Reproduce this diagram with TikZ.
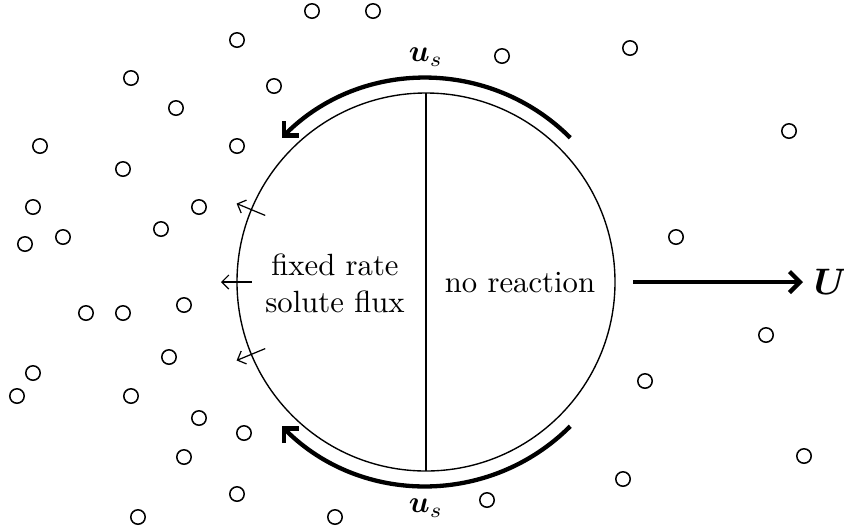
\documentclass[tikz,border=0pt]{standalone}
\usepackage{amsmath}
\usepackage{tikz}
\usetikzlibrary{arrows.meta,positioning}

\begin{document}
\begin{tikzpicture}[
    x=0.3257pt,y=0.3257pt,
    font=\normalsize,
    particle/.style={draw,line width=0.5pt,radius=2.35pt},
    slipflow/.style={-{Straight Barb[length=1.2mm,width=2.4mm]},line width=1.4pt},
    fluxarrow/.style={-{Straight Barb[length=0.8mm,width=1.6mm]},line width=0.4pt},
    drift/.style={-{Straight Barb[length=1.2mm,width=2.4mm]},line width=1.4pt}
  ]
    \useasboundingbox (-426,-246) rectangle (418,282);

    % particle and its two halves
    \coordinate (c) at (0,0);
    \draw[line width=0.45pt] (c) circle[radius=189];
    \draw[line width=0.45pt] (0,189) -- (0,-189);
    \node[align=center] (active) at (-91,-1) {fixed rate\\solute flux};
    \node (inert) at (94,-1) {no reaction};

    % slip velocity over the surface
    \draw[slipflow] (45:204) arc[start angle=45,end angle=135,radius=204];
    \draw[slipflow] (-45:204) arc[start angle=-45,end angle=-135,radius=204];
    \node (ustop) at (0,225) {$\boldsymbol{u}_s$};
    \node (usbot) at (0,-226) {$\boldsymbol{u}_s$};

    % released solute
    \foreach \a in {157.5,180,202.5}
      \draw[fluxarrow] (\a:174) -- (\a:205);

    % swimming direction
    \coordinate (ustart) at (207,0);
    \node[right=0pt of {(377,0)},font=\large] (U) {$\boldsymbol{U}$};
    \draw[drift] (ustart) -- (U.west);

    % solute molecules
    \foreach \px/\py in {-189/242,-295/204,-250/174,-386/136,-189/136,-303/113,
        -152/196,-114/271,-53/271,76/226,204/234,-393/75,-401/38,-363/45,
        -227/75,-265/53,-340/-31,-303/-31,-242/-23,-257/-75,-393/-91,
        -409/-114,-295/-114,-227/-136,-182/-151,-242/-175,-189/-212,
        -288/-235,363/151,250/45,340/-53,219/-99,378/-174,197/-197,
        61/-218,-91/-235}
      \draw[particle] (\px,\py) circle;
  \end{tikzpicture}
\end{document}
